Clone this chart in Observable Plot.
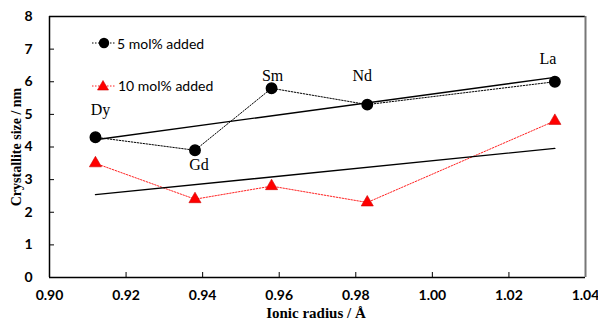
<!DOCTYPE html>
<html>
<head>
<meta charset="utf-8">
<script src="https://cdn.jsdelivr.net/npm/d3@7"></script>
<script src="https://cdn.jsdelivr.net/npm/@observablehq/plot@0.6"></script>
<style>
  html, body { margin: 0; padding: 0; background: #fff; }
  #wrap { position: relative; width: 598px; height: 325px; }
  #legend { position: absolute; left: 0; top: 0; font-family: Lato, "Liberation Sans", sans-serif; font-size: 14px; color: #000; }
  .lg { position: absolute; display: flex; align-items: center; white-space: nowrap; }
</style>
</head>
<body>
<div id="wrap"></div>
<script>
// ---- data ----
const elements = ["Dy", "Gd", "Sm", "Nd", "La"];
const ionicRadius = [0.912, 0.938, 0.958, 0.983, 1.032];
const size5 = [4.3, 3.9, 5.8, 5.3, 6.0];
const size10 = [3.5, 2.4, 2.8, 2.3, 4.8];
const xTicks = [0.90, 0.92, 0.94, 0.96, 0.98, 1.00, 1.02, 1.04];
const yTicks = [0, 1, 2, 3, 4, 5, 6, 7, 8];
const seriesNames = ["5 mol% added", "10 mol% added"];

// ---- styles (label offsets in px) ----
const labelOffsets = {Dy: [5, -27], Gd: [4, 15], Sm: [1, -12], Nd: [-5, -29], La: [-7, -23]};

const s5 = elements.map((e, i) => ({el: e, x: ionicRadius[i], y: size5[i]}));
const s10 = elements.map((e, i) => ({el: e, x: ionicRadius[i], y: size10[i]}));

const tickFont = {fontFamily: "Lato, 'Liberation Sans', sans-serif", fontSize: 14, fontWeight: "bold"};

const chart = Plot.plot({
  width: 598,
  height: 325,
  marginLeft: 49,
  marginRight: 13,
  marginTop: 16,
  marginBottom: 48,
  style: {background: "#fff", color: "#000"},
  x: {type: "linear", domain: [0.90, 1.04]},
  y: {type: "linear", domain: [0, 8]},
  marks: [
    Plot.axisX({ticks: xTicks, tickFormat: d3.format(".2f"), tickSize: -5, tickPadding: 18, ...tickFont, label: null}),
    Plot.axisY({ticks: yTicks, tickFormat: d3.format("d"), tickSize: -5, tickPadding: 22, ...tickFont, label: null}),
    Plot.ruleY([0], {stroke: "#000", strokeWidth: 1.5}),
    Plot.ruleY([8], {stroke: "#000", strokeWidth: 1.5}),
    Plot.ruleX([0.90], {stroke: "#000", strokeWidth: 1.5}),
    Plot.ruleX([1.04], {stroke: "#777", strokeWidth: 2}),
    Plot.line(s10, {x: "x", y: "y", stroke: "#ff2020", strokeWidth: 1, strokeDasharray: "1.5,1.5"}),
    Plot.line(s5, {x: "x", y: "y", stroke: "#000", strokeWidth: 1, strokeDasharray: "1.5,1.5"}),
    Plot.linearRegressionY(s5, {x: "x", y: "y", ci: 0, stroke: "#000", strokeWidth: 1.3}),
    Plot.linearRegressionY(s10, {x: "x", y: "y", ci: 0, stroke: "#000", strokeWidth: 1.3}),
    Plot.dot(s10, {x: "x", y: "y", symbol: "triangle", r: 4.5, fill: "#ff0000", stroke: "#d00000", strokeWidth: 0.6}),
    Plot.dot(s5, {x: "x", y: "y", r: 5.2, fill: "#000", stroke: "#000"}),
    ...s5.map(d => Plot.text([d], {x: "x", y: "y", text: "el", dx: labelOffsets[d.el][0], dy: labelOffsets[d.el][1],
      fontFamily: "'Liberation Serif', 'Times New Roman', serif", fontSize: 16, fill: "#000"}))
  ]
});

const wrap = document.getElementById("wrap");
wrap.appendChild(chart);

// axis titles as SVG text
const svg = d3.select(chart);
svg.append("text").attr("x", 316).attr("y", 318).attr("text-anchor", "middle")
  .style("font-family", "'Liberation Serif', 'Times New Roman', serif").style("font-size", "15px").style("font-weight", "bold")
  .text("Ionic radius / Å");
svg.append("text").attr("transform", "translate(21,147) rotate(-90)").attr("text-anchor", "middle")
  .style("font-family", "'Liberation Serif', 'Times New Roman', serif").style("font-size", "14px").style("font-weight", "bold")
  .text("Crystallite size / nm");

// legend
const lg = document.createElement("div");
lg.id = "legend";
lg.innerHTML = `
<div class="lg" style="left:91px; top:34px;">
  <svg width="26" height="18"><line x1="1" y1="9" x2="25" y2="9" stroke="#000" stroke-dasharray="1.5,1.5"/><circle cx="13" cy="9" r="5.2" fill="#000"/></svg>
  <span style="margin-left:0px">${seriesNames[0]}</span>
</div>
<div class="lg" style="left:91px; top:76px;">
  <svg width="26" height="18"><line x1="1" y1="10" x2="25" y2="10" stroke="#ff2020" stroke-dasharray="1.5,1.5"/><path d="M12,4.5L17.5,14L6.5,14Z" fill="#ff0000" stroke="#d00000" stroke-width="0.6"/></svg>
  <span style="margin-left:1px">${seriesNames[1]}</span>
</div>`;
wrap.appendChild(lg);
</script>
</body>
</html>
